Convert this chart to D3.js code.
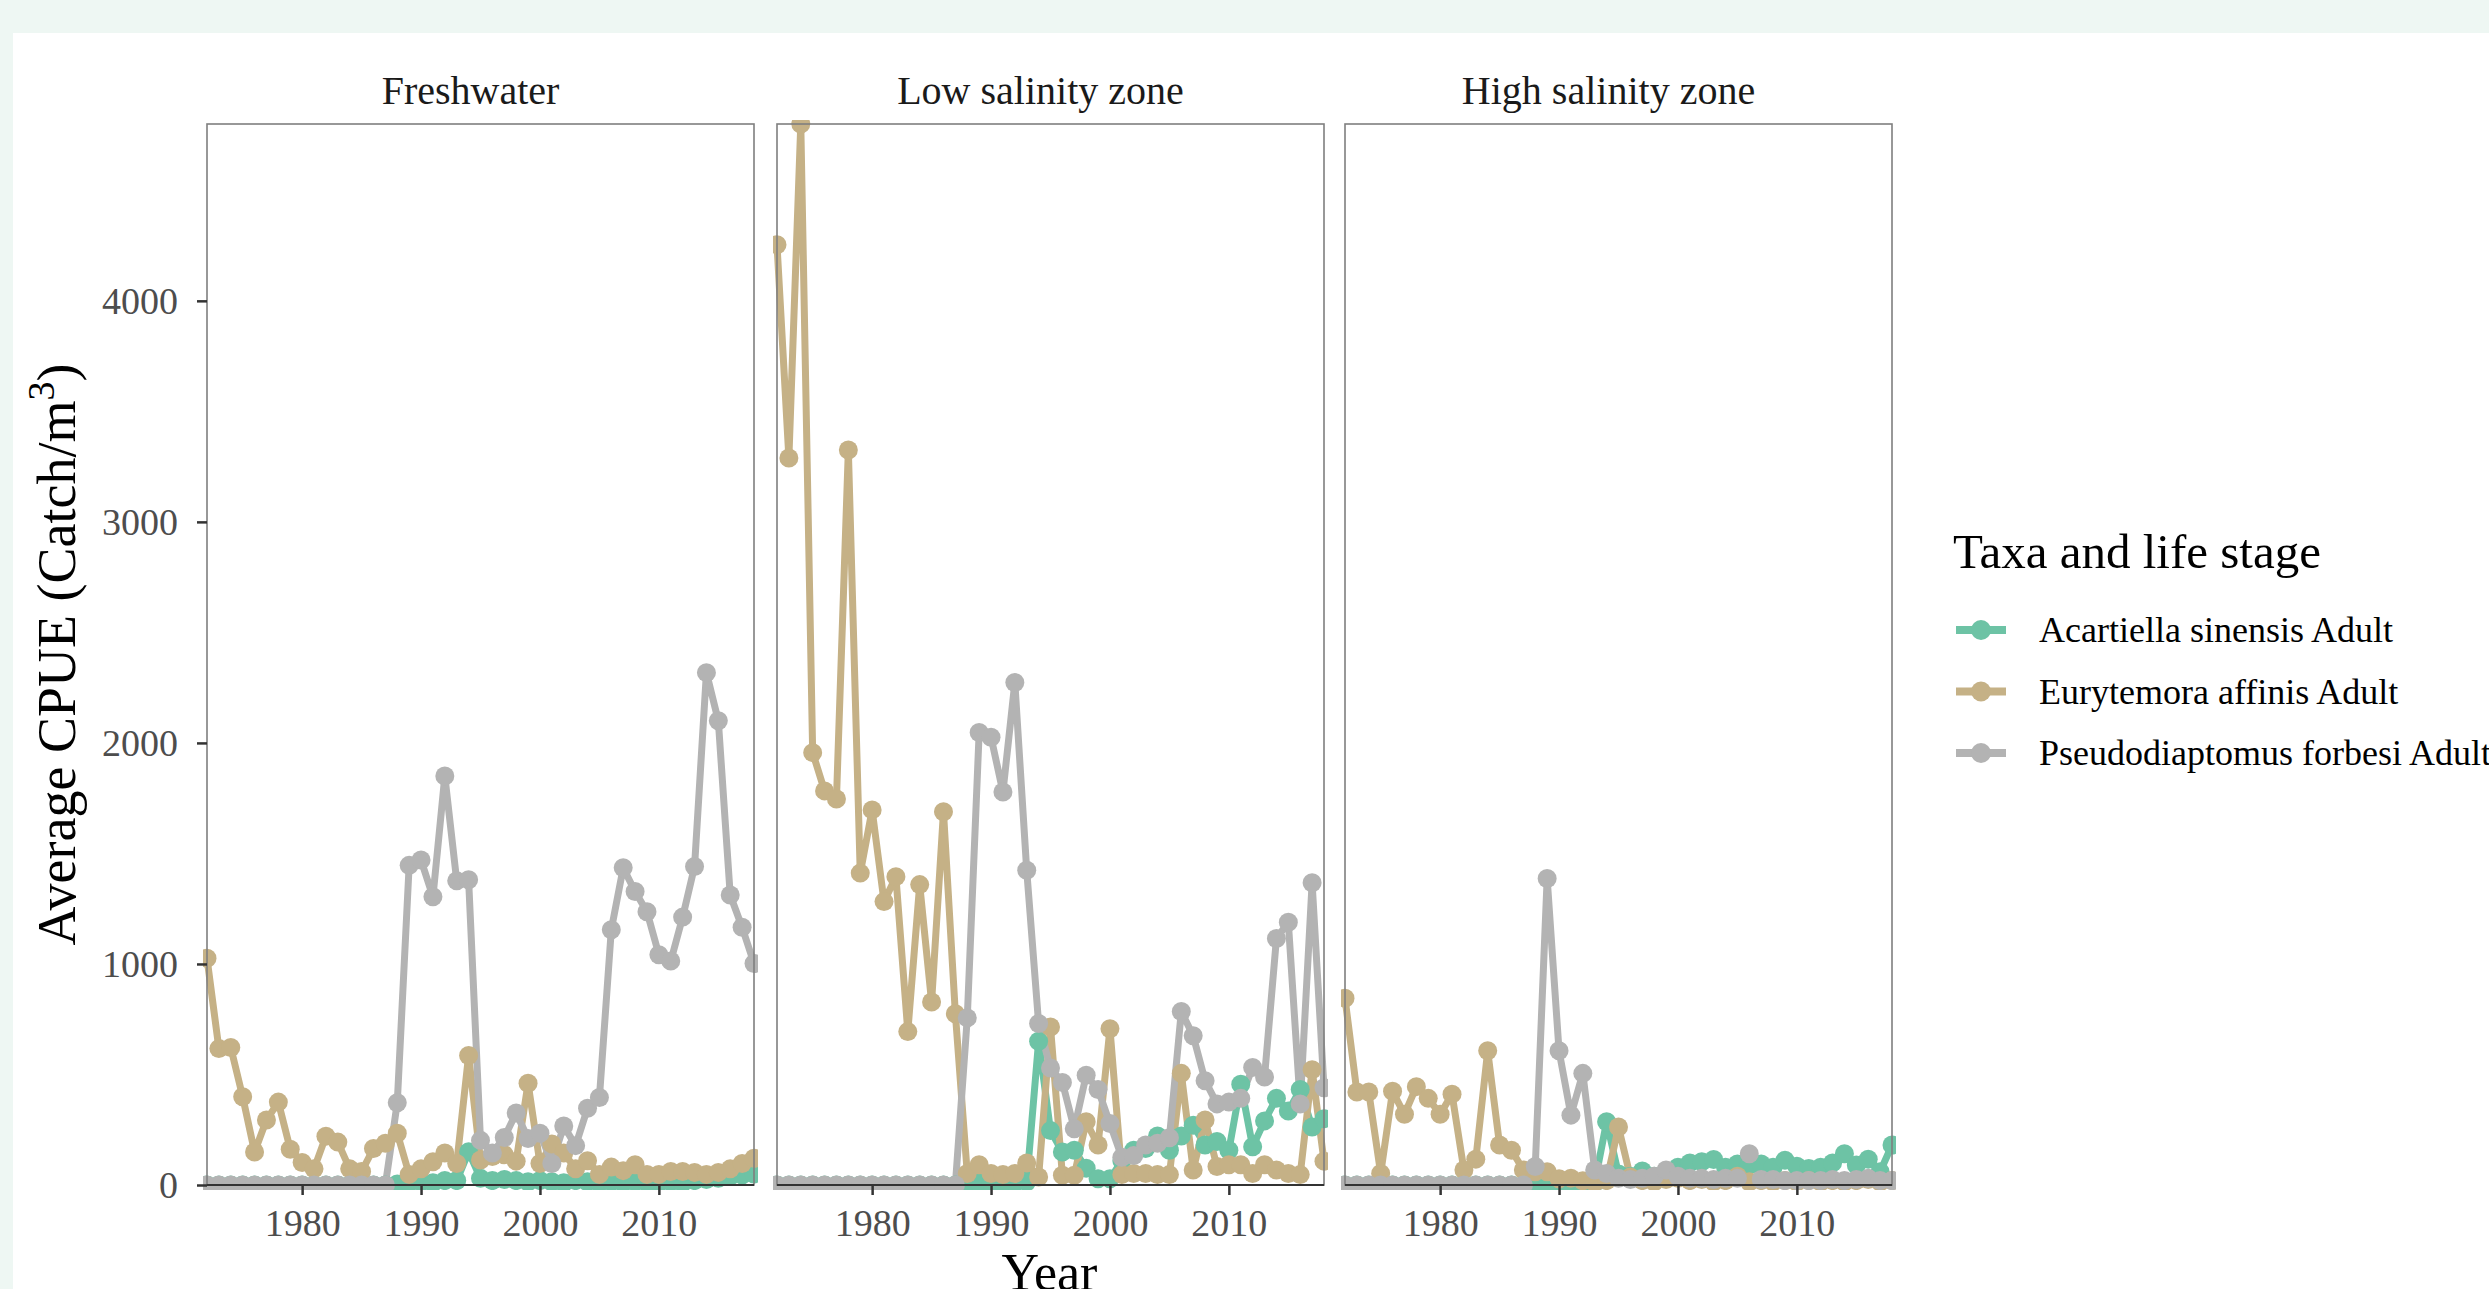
<!DOCTYPE html>
<meta charset="utf-8" />
<script src="https://d3js.org/d3.v7.min.js"></script>
<style>
    body { margin: 0; background: #eef7f3; }
    text { font-family: 'Liberation Serif', 'Times New Roman', serif; }
</style>
<div id="chart"></div>
<script>
    // data: average CPUE per year, by region and taxon
    const years = [1972, 1973, 1974, 1975, 1976, 1977, 1978, 1979, 1980, 1981, 1982, 1983, 1984, 1985, 1986, 1987,
        1988, 1989, 1990, 1991, 1992, 1993, 1994, 1995, 1996, 1997, 1998, 1999, 2000, 2001, 2002, 2003,
        2004, 2005, 2006, 2007, 2008, 2009, 2010, 2011, 2012, 2013, 2014, 2015, 2016, 2017, 2018]
    const regions = ['Freshwater', 'Low salinity zone', 'High salinity zone']
    const taxa = ['Acartiella sinensis Adult', 'Eurytemora affinis Adult', 'Pseudodiaptomus forbesi Adult']
    const colors = ['#6dc3a5', '#c5b186', '#b3b3b3']
    const xTicks = [1980, 1990, 2000, 2010]
    const yTicks = [0, 1000, 2000, 3000, 4000]

    // Freshwater
    const fwAcartiella = [0, 0, 0, 0, 0, 0, 0, 0, 0, 0, 0, 0, 0, 0, 0, 0,
        5, 10, 15, 10, 20, 20, 150, 30, 20, 25, 20, 15, 20, 15, 10, 20,
        15, 10, 15, 10, 15, 10, 10, 15, 10, 20, 25, 30, 40, 45, 50]
    const fwEurytemora = [1026, 617, 622, 399, 149, 294, 375, 162, 102, 73, 221, 194, 73, 61, 165, 189,
        234, 48, 73, 105, 145, 97, 586, 113, 129, 137, 108, 460, 97, 186, 145, 73,
        110, 48, 81, 65, 92, 48, 48, 61, 61, 57, 48, 57, 73, 97, 121]
    const fwPseudo = [0, 0, 0, 0, 0, 0, 0, 0, 0, 0, 0, 0, 0, 0, 0, 0,
        372, 1446, 1470, 1304, 1850, 1376, 1381, 202, 145, 215, 326, 210, 234, 97, 267, 178,
        347, 396, 1155, 1435, 1328, 1236, 1042, 1013, 1212, 1441, 2318, 2100, 1312, 1166, 1002]

    // Low salinity zone
    const lszAcartiella = [0, 0, 0, 0, 0, 0, 0, 0, 0, 0, 0, 0, 0, 0, 0, 0,
        10, 10, 10, 10, 10, 15, 650, 246, 149, 157, 76, 28, 28, 110, 157, 165,
        222, 157, 222, 270, 181, 197, 157, 456, 173, 290, 392, 335, 432, 262, 300]
    const lszEurytemora = [4254, 3289, 4800, 1956, 1783, 1746, 3325, 1411, 1697, 1282, 1395, 694, 1359, 828, 1689, 775,
        52, 92, 52, 47, 52, 100, 36, 715, 44, 44, 286, 181, 707, 47, 52, 52,
        47, 47, 505, 68, 294, 84, 92, 92, 52, 92, 68, 52, 47, 521, 108]
    const lszPseudo = [0, 0, 0, 0, 0, 0, 0, 0, 0, 0, 0, 0, 0, 0, 0, 0,
        756, 2047, 2026, 1778, 2273, 1424, 731, 529, 464, 254, 497, 432, 278, 125, 133, 181,
        189, 214, 785, 675, 472, 367, 375, 392, 532, 489, 1115, 1189, 367, 1367, 440]

    // High salinity zone
    const hszAcartiella = [0, 0, 0, 0, 0, 0, 0, 0, 0, 0, 0, 0, 0, 0, 0, 0,
        5, 5, 5, 5, 5, 10, 286, 50, 40, 63, 40, 30, 80, 100, 105, 115,
        80, 95, 90, 95, 80, 112, 85, 75, 80, 100, 141, 90, 117, 60, 181]
    const hszEurytemora = [845, 421, 421, 52, 424, 320, 445, 392, 320, 411, 68, 117, 607, 181, 157, 68,
        60, 60, 28, 31, 19, 11, 20, 262, 36, 20, 15, 25, 30, 20, 25, 15,
        20, 40, 15, 20, 15, 20, 15, 20, 15, 20, 15, 20, 25, 15, 20]
    const hszPseudo = [0, 0, 0, 0, 0, 0, 0, 0, 0, 0, 0, 0, 0, 0, 0, 0,
        84, 1387, 607, 316, 505, 68, 52, 30, 25, 30, 40, 68, 40, 30, 30, 25,
        30, 30, 141, 25, 25, 20, 20, 20, 20, 25, 20, 25, 30, 20, 20]

    const regionSeries = [
        [fwAcartiella, fwEurytemora, fwPseudo],
        [lszAcartiella, lszEurytemora, lszPseudo],
        [hszAcartiella, hszEurytemora, hszPseudo]
    ]

    const W = 2489, H = 1289
    const panelLefts = [207, 777, 1345]
    const panelW = 547
    const panelTop = 124, panelBottom = 1185

    const svg = d3.select('#chart').append('svg')
        .attr('width', W).attr('height', H)
        .style('display', 'block')

    svg.append('rect').attr('width', W).attr('height', H).attr('fill', '#eef7f3')
    svg.append('rect').attr('x', 13).attr('y', 33).attr('width', W - 13).attr('height', H - 33).attr('fill', '#fff')

    const yMax = d3.max(regionSeries.flat(2))
    const y = d3.scaleLinear().domain([0, yMax]).range([panelBottom, panelTop])

    regions.forEach((region, r) => {
        const x0 = panelLefts[r]
        const x = d3.scaleLinear().domain([1972, 2018]).range([x0, x0 + panelW])

        svg.append('clipPath').attr('id', 'clip' + r)
            .append('rect')
            .attr('x', x0 - 4).attr('y', panelTop - 4)
            .attr('width', panelW + 8).attr('height', panelBottom - panelTop + 9)

        const g = svg.append('g').attr('clip-path', `url(#clip${r})`)
        const series = regionSeries[r]

        // lines first, then points on top (like ggplot layers)
        series.forEach((vals, i) => {
            g.append('path')
                .datum(vals)
                .attr('fill', 'none')
                .attr('stroke', colors[i])
                .attr('stroke-width', 7)
                .attr('stroke-linejoin', 'round')
                .attr('d', d3.line().x((d, j) => x(years[j])).y((d) => y(d)))
        })
        series.forEach((vals, i) => {
            g.selectAll('.pt' + i)
                .data(vals)
                .join('circle')
                .attr('class', 'pt' + i)
                .attr('cx', (d, j) => x(years[j]))
                .attr('cy', (d) => y(d))
                .attr('r', 9.5)
                .attr('fill', colors[i])
        })

        // panel border
        svg.append('rect')
            .attr('x', x0).attr('y', panelTop)
            .attr('width', panelW).attr('height', panelBottom - panelTop)
            .attr('fill', 'none').attr('stroke', '#7f7f7f').attr('stroke-width', 1.6)
        svg.append('line')
            .attr('x1', x0).attr('x2', x0 + panelW)
            .attr('y1', panelBottom).attr('y2', panelBottom)
            .attr('stroke', '#333').attr('stroke-width', 2)

        // strip title
        svg.append('text')
            .attr('x', x0 + panelW / 2 - 10).attr('y', 104)
            .attr('text-anchor', 'middle')
            .attr('font-size', '40px').attr('fill', '#1a1a1a')
            .text(region)

        // x axis
        const xa = svg.append('g')
            .attr('transform', `translate(0,${panelBottom})`)
            .call(d3.axisBottom(x).tickValues(xTicks).tickFormat(d3.format('d')).tickSize(10).tickPadding(14))
        xa.select('.domain').remove()
        xa.selectAll('line').attr('stroke', '#333').attr('stroke-width', 2.5)
        xa.selectAll('text').attr('font-size', '38px').attr('fill', '#4d4d4d')
            .attr('font-family', 'Liberation Serif')

        if (r === 0) {
            const ya = svg.append('g')
                .attr('transform', `translate(${x0},0)`)
                .call(d3.axisLeft(y).tickValues(yTicks).tickFormat(d3.format('d')).tickSize(10).tickPadding(19))
            ya.select('.domain').remove()
            ya.selectAll('line').attr('stroke', '#333').attr('stroke-width', 2.5)
            ya.selectAll('text').attr('font-size', '38px').attr('fill', '#4d4d4d')
                .attr('font-family', 'Liberation Serif')
        }
    })

    // axis titles
    svg.append('text')
        .attr('x', (panelLefts[0] + panelLefts[2] + panelW) / 2).attr('y', 1290)
        .attr('text-anchor', 'middle').attr('font-size', '52px').attr('fill', '#000')
        .text('Year')

    const yt = svg.append('text')
        .attr('transform', `translate(75,${(panelTop + panelBottom) / 2}) rotate(-90)`)
        .attr('text-anchor', 'middle').attr('font-size', '54px').attr('fill', '#000')
    yt.append('tspan').text('Average CPUE (Catch/m')
    yt.append('tspan').attr('baseline-shift', 'super').attr('font-size', '38px').text('3')
    yt.append('tspan').text(')')

    // legend
    const lg = svg.append('g')
    lg.append('text').attr('x', 1953).attr('y', 568)
        .attr('font-size', '49px').attr('fill', '#000')
        .text('Taxa and life stage')
    taxa.forEach((t, i) => {
        const by = 642 + i * 61.5
        lg.append('line')
            .attr('x1', 1956).attr('x2', 2006)
            .attr('y1', by - 12).attr('y2', by - 12)
            .attr('stroke', colors[i]).attr('stroke-width', 8)
        lg.append('circle').attr('cx', 1981).attr('cy', by - 12).attr('r', 10).attr('fill', colors[i])
        lg.append('text').attr('x', 2039).attr('y', by)
            .attr('font-size', '36px').attr('fill', '#000')
            .text(t)
    })
</script>
